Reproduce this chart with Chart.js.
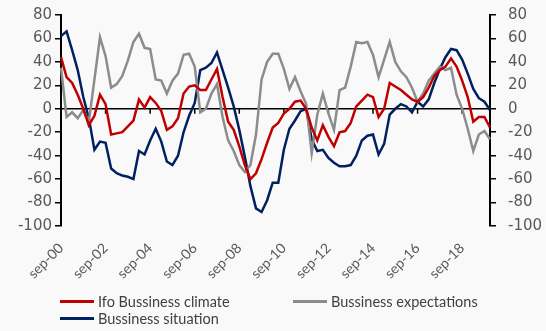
<!DOCTYPE html>
<html>
<head>
<meta charset="utf-8">
<title>Ifo Business climate</title>
<script src="https://cdn.jsdelivr.net/npm/chart.js@4.4.1/dist/chart.umd.min.js"></script>
<style>
    html, body { margin: 0; padding: 0; background: #f9f9f9; }
    #wrap { position: relative; width: 546px; height: 331px; }
    #legend {
        position: absolute; left: 60px; top: 293px;
        display: grid; grid-template-columns: 233px auto;
        font: 14.5px Lato, sans-serif; color: #404040;
    }
    .item { display: flex; align-items: center; height: 17px; white-space: nowrap; }
    .swatch { width: 34px; height: 3px; margin-right: 4px; }
</style>
</head>
<body>
<div id="wrap">
    <canvas id="ifoChart" width="546" height="331"></canvas>
    <div id="legend"></div>
</div>
<script>
// Quarterly data, sep-00 .. dec-19
const monthNames = ["sep", "dec", "mar", "jun"];
const categories = [];
for (let i = 0; i < 78; i++) {
    let year = 2000 + Math.floor((i + 2) / 4);
    categories.push(monthNames[i % 4] + "-" + String(year % 100).padStart(2, "0"));
}

const tickLabels = ["sep-00", "sep-02", "sep-04", "sep-06", "sep-08", "sep-10", "sep-12", "sep-14", "sep-16", "sep-18"];
const yTicks = [80, 60, 40, 20, 0, -20, -40, -60, -80, -100];

const climate = [
    44, 27, 22, 12, 0, -14, -6, 12, 4, -22,
    -21, -20, -15, -10, 8, 1, 10, 5, -2, -18,
    -15, -8, 13, 19, 20, 16, 16, 25, 34, 10,
    -11, -18, -32, -48, -60, -55, -43, -29, -16, -12,
    -4, 0, 6, 7, 0, -16, -27, -14, -24, -32,
    -20, -19, -12, 2, 7, 12, 10, -7, 0, 22,
    19, 16, 12, 8, 6, 10, 18, 28, 33, 36,
    43, 36, 24, 10, -11, -7, -7, -16
];

const expectations = [
    35, -7, -3, -8, -1, -11, 25, 61, 45, 18,
    21, 28, 41, 57, 64, 52, 51, 25, 24, 13,
    24, 30, 46, 47, 36, -3, 0, 13, 21, -7,
    -27, -36, -48, -54, -48, -22, 25, 40, 47, 47,
    34, 17, 27, 15, 4, -38, -5, 13, -4, -18,
    16, 18, 36, 57, 56, 57, 46, 27, 42, 57,
    40, 32, 27, 18, 6, 13, 24, 30, 36, 33,
    35, 12, 0, -17, -36, -22, -19, -26
];

const situation = [
    62, 66, 50, 33, 10, -8, -35, -28, -29, -51,
    -55, -57, -58, -60, -36, -39, -27, -17, -28, -45,
    -48, -40, -20, -6, 5, 33, 35, 39, 48, 33,
    18, 2, -18, -41, -66, -85, -88, -78, -63, -63,
    -35, -17, -10, -2, 0, -26, -36, -35, -42, -46,
    -49, -49, -48, -40, -27, -23, -22, -39, -30, -5,
    0, 4, 2, -3, 6, 2, 8, 22, 34, 44,
    51, 50, 42, 30, 17, 9, 6, -1
];

const tickFont = { family: "DejaVu Sans", size: 15 };
const tickColor = "#595959";

// zero line with category tick marks, like the Excel axis
const zeroAxis = {
    id: "zeroAxis",
    beforeDatasetsDraw(chart) {
        let ctx = chart.ctx;
        let x = chart.scales.x;
        let y0 = chart.scales.y.getPixelForValue(0);
        ctx.save();
        ctx.strokeStyle = "#000";
        ctx.lineWidth = 1.5;
        ctx.beginPath();
        ctx.moveTo(chart.chartArea.left, y0);
        ctx.lineTo(chart.chartArea.right, y0);
        categories.forEach((c, i) => {
            if (tickLabels.includes(c) && i > 0) {
                let px = x.getPixelForValue(i);
                ctx.moveTo(px, y0);
                ctx.lineTo(px, y0 + 5);
            }
        });
        ctx.stroke();
        ctx.restore();
    }
};

function makeLine(label, data, color, axis) {
    return {
        label: label,
        data: data,
        borderColor: color,
        backgroundColor: color,
        borderWidth: 2.5,
        pointRadius: 0,
        tension: 0,
        yAxisID: axis
    };
}

// fixed box sizes so the plot area lands where the Excel one is
function fitY(width) {
    return (scale) => {
        scale.width = width;
        scale.paddingTop = 0;
        scale.paddingBottom = 0;
    };
}

let ifoChart = new Chart(document.getElementById("ifoChart"), {
    type: "line",
    data: {
        labels: categories,
        datasets: [
            makeLine("Ifo Bussiness climate", climate, "#c00000", "y"),
            makeLine("Bussiness expectations", expectations, "#8c8c8c", "y1"),
            makeLine("Bussiness situation", situation, "#002060", "y")
        ]
    },
    options: {
        responsive: false,
        animation: false,
        layout: { autoPadding: false, padding: { top: 15, bottom: 0, left: 0, right: 0 } },
        plugins: {
            legend: { display: false },
            tooltip: { enabled: false }
        },
        scales: {
            x: {
                offset: false,
                grid: { display: false, drawTicks: false },
                border: { display: false },
                afterFit: (scale) => {
                    scale.height = 105;
                    scale.paddingLeft = 0;
                    scale.paddingRight = 0;
                },
                ticks: {
                    autoSkip: false,
                    minRotation: 45,
                    maxRotation: 45,
                    padding: 14,
                    color: tickColor,
                    font: { family: "Lato", size: 14 },
                    callback: function (value) {
                        let lab = categories[value];
                        return tickLabels.includes(lab) ? lab : "";
                    }
                }
            },
            y: {
                position: "left",
                min: -100,
                max: 80,
                afterFit: fitY(61),
                afterBuildTicks: (scale) => { scale.ticks = yTicks.map(v => ({ value: v })); },
                grid: { drawOnChartArea: false, tickLength: 6, color: "#000", lineWidth: 1.5 },
                border: { display: true, color: "#000", width: 2 },
                ticks: { autoSkip: false, padding: 3, color: tickColor, font: tickFont }
            },
            y1: {
                position: "right",
                min: -100,
                max: 80,
                afterFit: fitY(56),
                afterBuildTicks: (scale) => { scale.ticks = yTicks.map(v => ({ value: v })); },
                grid: { drawOnChartArea: false, tickLength: 6, color: "#000", lineWidth: 1.5 },
                border: { display: true, color: "#000", width: 2 },
                ticks: { autoSkip: false, padding: 12, color: tickColor, font: tickFont }
            }
        }
    },
    plugins: [zeroAxis]
});

// HTML legend: climate | expectations on row one, situation below
let legendDiv = document.getElementById("legend");
ifoChart.data.datasets.forEach((ds) => {
    let item = document.createElement("div");
    item.className = "item";
    item.innerHTML = `<span class="swatch" style="background:${ds.borderColor}"></span>${ds.label}`;
    legendDiv.appendChild(item);
});
</script>
</body>
</html>
